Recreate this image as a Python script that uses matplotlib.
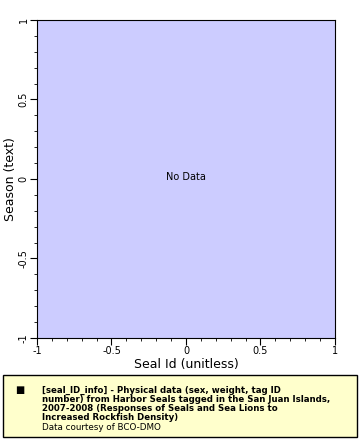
import matplotlib
matplotlib.use("Agg")
import matplotlib.pyplot as plt
from matplotlib.patches import Rectangle
from matplotlib.ticker import MultipleLocator

# no data available in this dataset
seal_id = []
season = []

x_ticks = [-1, -0.5, 0, 0.5, 1]
x_tick_labels = ["-1", "-0.5", "0", "0.5", "1"]
y_ticks = [-1, -0.5, 0, 0.5, 1]
y_tick_labels = ["-1", "-0.5", "0", "0.5", "1"]

legend_lines = ["[seal_ID_info] - Physical data (sex, weight, tag ID",
                "number) from Harbor Seals tagged in the San Juan Islands,",
                "2007-2008 (Responses of Seals and Sea Lions to",
                "Increased Rockfish Density)"]
legend_credit = "Data courtesy of BCO-DMO"

fig = plt.figure(figsize=(3.6, 4.4), dpi=100)
ax = fig.add_axes([37 / 360, 1 - 338 / 440, 298 / 360, 318 / 440])
ax.set_facecolor("#ccccff")
ax.plot(seal_id, season, "s", color="k")
ax.set_xlim(-1, 1)
ax.set_ylim(-1, 1)
ax.set_xticks(x_ticks)
ax.set_xticklabels(x_tick_labels, fontsize=7)
ax.set_yticks(y_ticks)
ax.set_yticklabels(y_tick_labels, fontsize=7, rotation=90, va="center")
ax.xaxis.set_minor_locator(MultipleLocator(0.1))
ax.yaxis.set_minor_locator(MultipleLocator(0.1))
ax.tick_params(which="major", length=5, width=0.8, pad=1)
ax.tick_params(which="minor", length=2.5, width=0.6)
ax.set_xlabel("Seal Id (unitless)", fontsize=9, labelpad=1)
ax.set_ylabel("Season (text)", fontsize=9, labelpad=1)
ax.text(0, 0.015, "No Data", fontsize=7, ha="center", va="center")

# legend box
fig.patches.append(Rectangle((3 / 360, 3 / 440), 354 / 360, 62 / 440,
                             transform=fig.transFigure, facecolor="#ffffcc",
                             edgecolor="black", linewidth=1))
fig.text(20 / 360, 1 - 390 / 440, "\u25a0", fontsize=7, ha="center", va="center")
for i, line in enumerate(legend_lines):
    fig.text(42 / 360, 1 - (390 + 9.2 * i) / 440, line, fontsize=6.2,
             fontweight="bold", ha="left", va="center")
fig.text(42 / 360, 1 - 427 / 440, legend_credit, fontsize=6.3,
         ha="left", va="center")

fig.savefig("out.png", dpi=100)
